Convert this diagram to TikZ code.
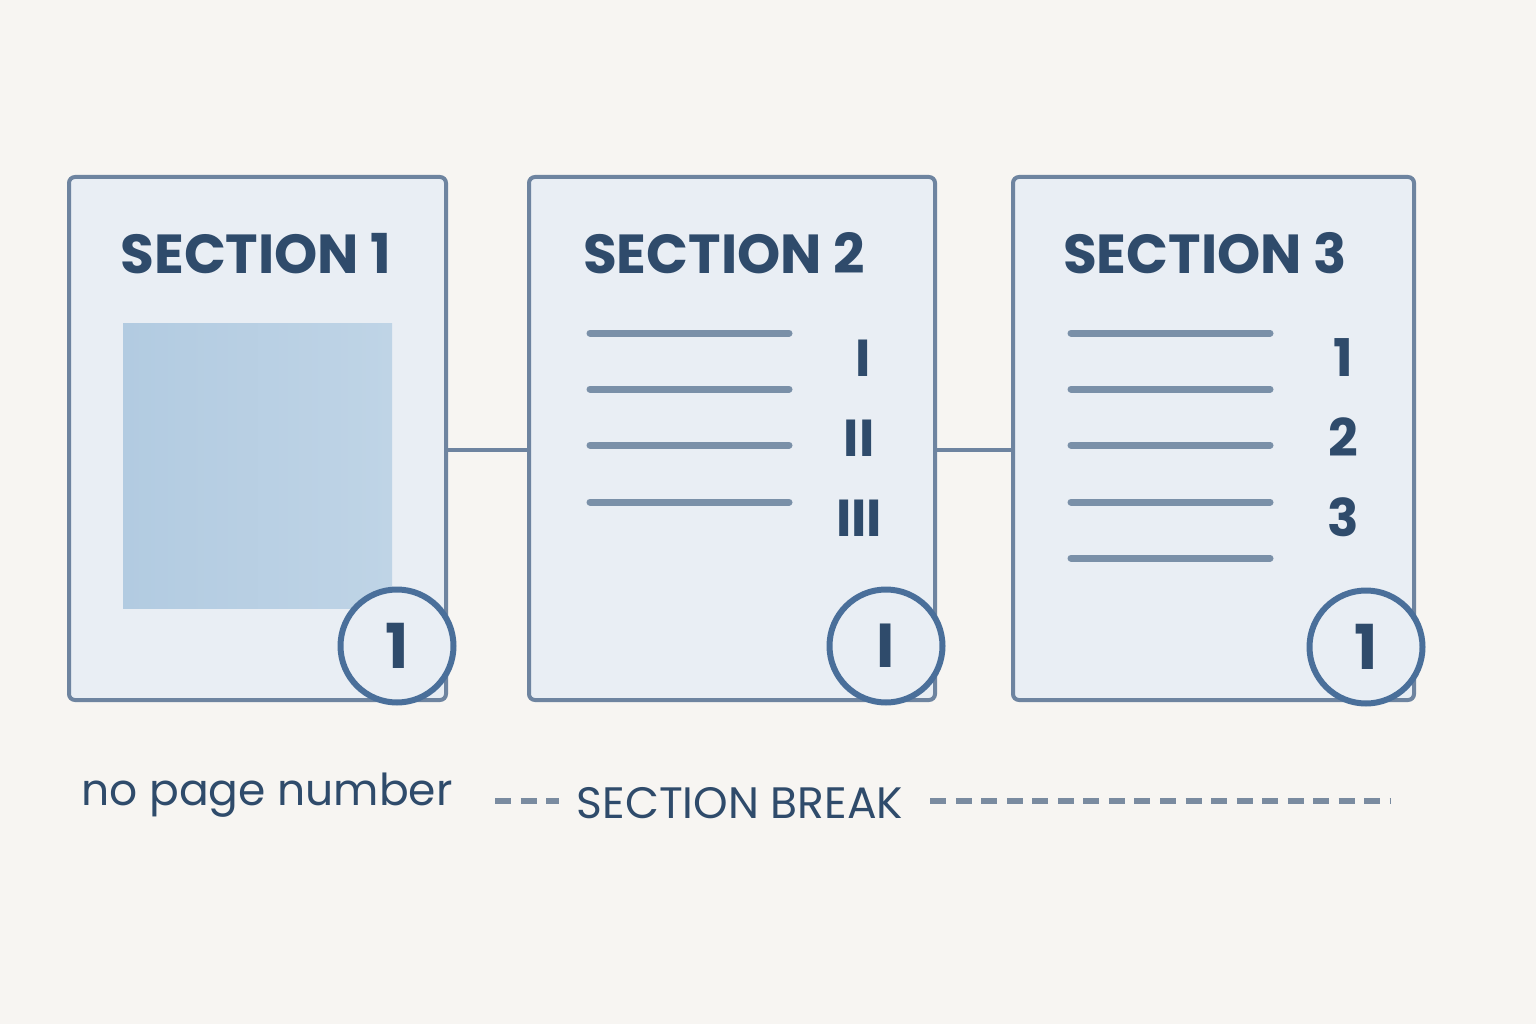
\documentclass[tikz,border=0pt]{standalone}
\usepackage{fontspec}
\setmainfont{Poppins}
\usetikzlibrary{calc}
\definecolor{bg}{HTML}{F7F5F2}
\definecolor{boxfill}{HTML}{E9EEF4}
\definecolor{boxline}{HTML}{6E84A0}
\definecolor{ink}{HTML}{2F4B6B}
\definecolor{ring}{HTML}{4A6F9A}
\definecolor{rule}{HTML}{7A90A8}
\definecolor{dashc}{HTML}{7A8BA0}
\definecolor{picL}{HTML}{B2CBE1}
\definecolor{picR}{HTML}{BFD4E6}
\tikzset{
  page/.style={draw=boxline, fill=boxfill, line width=4pt, rounded corners=6pt, minimum height=523pt, inner sep=0pt},
  ring/.style={circle, draw=ring, fill=boxfill, line width=6pt, minimum size=113pt, inner sep=0pt, text=ink, font=\fontsize{62}{62}\selectfont\bfseries},
  title/.style={anchor=base, text=ink, font=\fontsize{55}{55}\selectfont\bfseries},
  num/.style={anchor=base, text=ink, font=\fontsize{52}{52}\selectfont\bfseries},
  textline/.style={draw=rule, line width=7pt, line cap=round},
  link/.style={draw=boxline, line width=4pt},
  dashline/.style={draw=dashc, line width=5.5pt, dash pattern=on 16pt off 9.5pt},
}
\begin{document}
\begin{tikzpicture}[x=1pt,y=-1pt]
\fill[bg] (0,0) rectangle (1536,1024);
\useasboundingbox (0,0) rectangle (1536,1024);
% pages
\node[page, minimum width=377pt] (p1) at (257.5,438.5) {};
\node[page, minimum width=406pt] (p2) at (732,438.5) {};
\node[page, minimum width=401pt] (p3) at (1213.5,438.5) {};
% links
\draw[link] ([yshift=-11pt]p1.east) -- ([yshift=-11pt]p2.west);
\draw[link] ([yshift=-11pt]p2.east) -- ([yshift=-11pt]p3.west);
% titles
\node[title] (t1) at (256,274) {SECTION 1};
\node[title] (t2) at (724,274) {SECTION 2};
\node[title] (t3) at (1205,274) {SECTION 3};
% picture
\shade[left color=picL, right color=picR] (123,323) rectangle (392,608);
% section 2 lines
\foreach \yy in {333,389,445,502}{\draw[textline] (590,\yy) -- (789,\yy);}
\node[num] (r1) at (863,376) {I};
\node[num] (r2) at (859,456) {II};
\node[num] (r3) at (859,536) {III};
% section 3 lines
\foreach \yy in {333,389,445,502,558}{\draw[textline] (1071,\yy) -- (1270,\yy);}
\node[num] (a1) at (1343,376) {1};
\node[num] (a2) at (1343,456) {2};
\node[num] (a3) at (1343,536) {3};
% rings
\node[ring] (c1) at (397,646) {1};
\node[ring] (c2) at (886,646) {I};
\node[ring] (c3) at (1366,647) {1};
% bottom
\node[anchor=base west, text=ink, font=\fontsize{44}{44}\selectfont, inner sep=0pt] (np) at (81,805) {no page number};
\node[anchor=base, text=ink, font=\fontsize{44}{44}\selectfont, inner sep=0pt] (sb) at (740,818) {SECTION BREAK};
\coordinate (dl) at (495,801);
\coordinate (dr) at (1390,801);
\draw[dashline] (dl) -- ([xshift=-18pt]sb.west |- dl);
\draw[dashline] ([xshift=27pt]sb.east |- dl) -- (dr);
\end{tikzpicture}
\end{document}
